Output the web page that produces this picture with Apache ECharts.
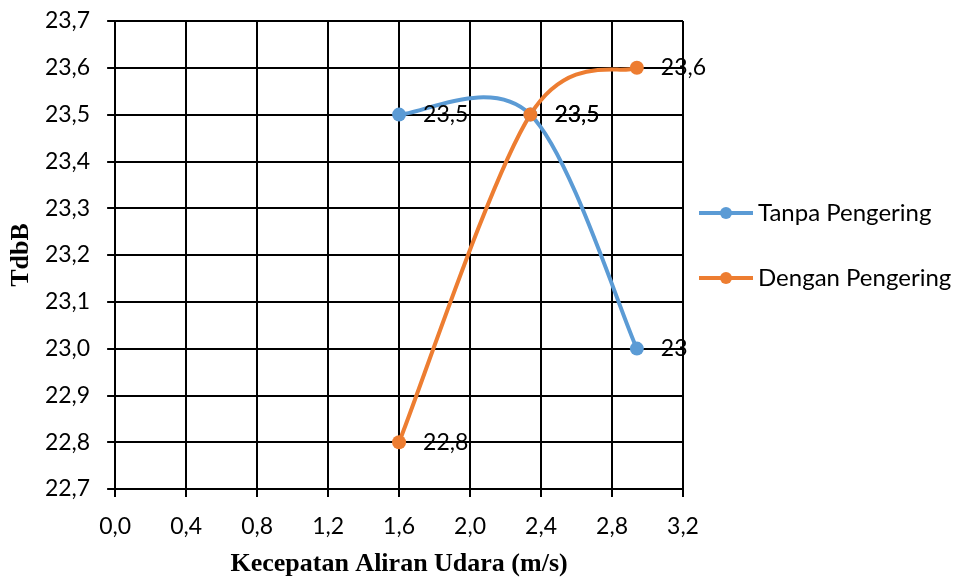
<!DOCTYPE html>
<html>
<head>
<meta charset="utf-8">
<script src="https://cdn.jsdelivr.net/npm/echarts@6/dist/echarts.min.js"></script>
<style>html,body{margin:0;padding:0;background:#fff}#c{width:959px;height:583px}</style>
</head>
<body>
<div id="c"></div>
<script>
const xValues = [1.6, 2.34, 2.94];
const tanpa = [23.5, 23.5, 23.0];
const dengan = [22.8, 23.5, 23.6];
const seriesNames = ['Tanpa Pengering', 'Dengan Pengering'];
const colors = ['#5B9BD5', '#ED7D31'];
const xTitle = 'Kecepatan Aliran Udara (m/s)';
const yTitle = 'TdbB';

const fmt = v => String(Math.round(v * 10) / 10).replace('.', ',');
const tick = v => v.toFixed(1).replace('.', ',');
const font = 'Lato, "Open Sans", sans-serif';

const chart = echarts.init(document.getElementById('c'));

// Excel-style smoothed curve (Catmull-Rom, 1/6 tension) drawn via the axes' scales
function curveSeries(vals, color, id) {
  return {
    type: 'custom', name: id, z: 2, silent: true,
    data: [[xValues[0], vals[0]]],
    renderItem: (params, api) => {
      const p = xValues.map((x, i) => api.coord([x, vals[i]]));
      const children = [];
      for (let i = 0; i < p.length - 1; i++) {
        const p0 = p[Math.max(i - 1, 0)], p1 = p[i], p2 = p[i + 1], p3 = p[Math.min(i + 2, p.length - 1)];
        children.push({
          type: 'bezierCurve',
          shape: {
            x1: p1[0], y1: p1[1], x2: p2[0], y2: p2[1],
            cpx1: p1[0] + (p2[0] - p0[0]) / 6, cpy1: p1[1] + (p2[1] - p0[1]) / 6,
            cpx2: p2[0] - (p3[0] - p1[0]) / 6, cpy2: p2[1] - (p3[1] - p1[1]) / 6
          },
          style: { stroke: color, lineWidth: 4, fill: null, lineCap: 'round' }
        });
      }
      return { type: 'group', children };
    }
  };
}

const mk = (name, vals, color) => ({
  name, type: 'line',
  data: xValues.map((x, i) => [x, vals[i]]),
  symbol: 'circle', symbolSize: 14,
  lineStyle: { color, width: 4, opacity: 0 },
  itemStyle: { color },
  label: { show: true, position: 'right', distance: 17, color: '#000', fontSize: 23, fontFamily: font,
    formatter: p => fmt(p.value[1]) },
  z: 3
});
chart.setOption({
  animation: false,
  grid: { left: 112, right: 276, top: 21, bottom: 94, containLabel: false },
  legend: {
    orient: 'vertical', left: 692, top: 196, itemGap: 41, itemWidth: 54, itemHeight: 15,
    textStyle: { fontSize: 24, fontFamily: font, color: '#000' },
    data: seriesNames.map((n, i) => ({ name: n, lineStyle: { color: colors[i], width: 4, opacity: 1 } }))
  },
  xAxis: {
    type: 'value', min: 0, max: 3.2, interval: 0.4,
    name: xTitle, nameLocation: 'middle', nameGap: 62,
    nameTextStyle: { fontFamily: '"Liberation Serif", serif', fontWeight: 'bold', fontSize: 26, color: '#000' },
    axisLine: { show: true, lineStyle: { color: '#000', width: 2 } },
    axisTick: { show: true, length: 8, lineStyle: { color: '#000', width: 2 } },
    axisLabel: { fontSize: 23, fontFamily: font, color: '#000', margin: 26, formatter: tick },
    splitLine: { show: true, lineStyle: { color: '#000', width: 2 } }
  },
  yAxis: {
    type: 'value', min: 22.7, max: 23.7, interval: 0.1,
    name: yTitle, nameLocation: 'middle', nameGap: 59,
    nameTextStyle: { fontFamily: '"Liberation Serif", serif', fontWeight: 'bold', fontSize: 26, color: '#000' },
    axisLine: { show: true, lineStyle: { color: '#000', width: 2 } },
    axisTick: { show: true, length: 8, lineStyle: { color: '#000', width: 2 } },
    axisLabel: { fontSize: 23, fontFamily: font, color: '#000', margin: 25, formatter: tick },
    splitLine: { show: true, lineStyle: { color: '#000', width: 2 } }
  },
  series: [
    curveSeries(tanpa, colors[0], '_c0'),
    curveSeries(dengan, colors[1], '_c1'),
    mk(seriesNames[0], tanpa, colors[0]),
    mk(seriesNames[1], dengan, colors[1])
  ]
});
</script>
</body>
</html>
